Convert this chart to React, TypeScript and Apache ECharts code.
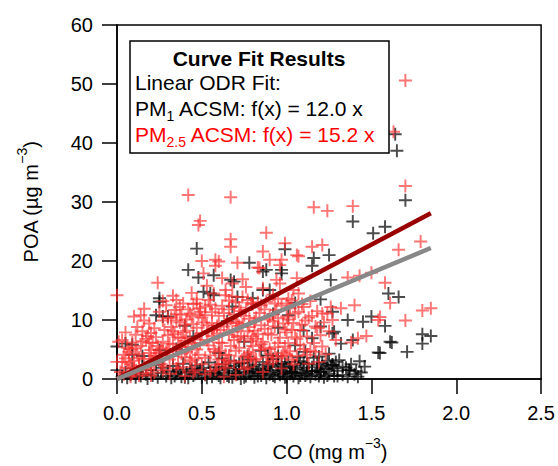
import React, { useEffect, useRef } from "react";
import * as echarts from "echarts";

const xTicks = [0, 0.5, 1.0, 1.5, 2.0, 2.5];
const yTicks = [0, 10, 20, 30, 40, 50, 60];

// PM2.5 ACSM points [CO, POA]
const pm25Points: number[][] = [
  [0.02, 1.2], [0.03, 2.9], [0.04, 0.8], [0.05, 3.5], [0.06, 1.9], [0.07, 4.6], [0.08, 2.4], [0.09, 6.2], [0.1, 3.1], [0.03, 6.6], [0.06, 5.3], [0.1, 1.4], [0.12, 4.2], [0.11, 7.5], [0.0, 14.2], [0.0, 2.9], [0.01, 6.3],
  [0.13, 2.2], [0.14, 5.6], [0.15, 8.1], [0.16, 3.4], [0.17, 6.8], [0.18, 1.6], [0.19, 9.4], [0.2, 4.9], [0.14, 10.8], [0.1, 10.6], [0.18, 7.3], [0.2, 2.7], [0.16, 11.9],
  [0.21, 6.1], [0.22, 8.6], [0.23, 3.8], [0.24, 16.3], [0.25, 11.4], [0.26, 5.2], [0.27, 9.9], [0.28, 2.1], [0.29, 12.5], [0.3, 7.4], [0.22, 1.1], [0.25, 4.4], [0.27, 13.2], [0.3, 10.3],
  [0.31, 3.3], [0.32, 8.8], [0.33, 5.9], [0.34, 11.7], [0.35, 1.8], [0.36, 7.1], [0.37, 9.6], [0.38, 4.3], [0.39, 12.8], [0.4, 6.5], [0.33, 14.1], [0.36, 2.6], [0.38, 10.9], [0.4, 3.7], [0.35, 13.4],
  [0.41, 8.2], [0.42, 31.2], [0.42, 5.4], [0.43, 11.1], [0.44, 2.9], [0.45, 9.3], [0.46, 6.7], [0.47, 13.5], [0.48, 26.1], [0.49, 26.8], [0.48, 4.1], [0.49, 12.0], [0.5, 20.0], [0.5, 7.8], [0.51, 17.9], [0.44, 14.6], [0.46, 1.5], [0.5, 10.4], [0.47, 12.8], [0.49, 11.4], [0.44, 10.6],
  [0.52, 3.6], [0.53, 9.1], [0.54, 5.7], [0.55, 12.6], [0.56, 7.3], [0.57, 14.5], [0.58, 20.2], [0.58, 19.2], [0.59, 2.4], [0.6, 10.7], [0.53, 15.8], [0.55, 1.3], [0.57, 8.4], [0.6, 6.2], [0.56, 11.3], [0.6, 19.9],
  [0.61, 4.8], [0.62, 17.1], [0.63, 8.9], [0.64, 14.2], [0.65, 3.1], [0.66, 11.8], [0.67, 30.8], [0.67, 23.7], [0.67, 22.4], [0.68, 16.2], [0.69, 6.6], [0.7, 9.7], [0.62, 12.4], [0.64, 1.9], [0.66, 7.5], [0.7, 13.0], [0.69, 2.8], [0.64, 15.1],
  [0.71, 19.7], [0.72, 5.3], [0.73, 11.5], [0.74, 13.9], [0.75, 3.8], [0.76, 15.6], [0.77, 8.1], [0.78, 10.2], [0.79, 6.4], [0.8, 12.7], [0.72, 9.0], [0.75, 1.7], [0.78, 4.5], [0.8, 7.2], [0.74, 16.9],
  [0.81, 9.8], [0.82, 3.4], [0.83, 18.9], [0.84, 11.2], [0.85, 5.9], [0.86, 15.4], [0.86, 21.6], [0.87, 8.5], [0.88, 24.8], [0.88, 13.1], [0.89, 2.6], [0.9, 20.2], [0.9, 10.6], [0.82, 6.8], [0.85, 12.5], [0.89, 7.7], [0.84, 18.8],
  [0.91, 4.2], [0.92, 14.3], [0.93, 8.9], [0.94, 11.7], [0.95, 6.1], [0.96, 19.3], [0.96, 16.2], [0.97, 20.2], [0.98, 9.4], [0.99, 23.0], [1.0, 12.8], [0.92, 3.0], [0.95, 13.6], [0.99, 5.5], [1.0, 7.9], [0.94, 16.8],
  [1.01, 10.1], [1.02, 4.7], [1.03, 13.3], [1.04, 15.1], [1.05, 7.1], [1.06, 21.0], [1.07, 20.8], [1.07, 11.4], [1.08, 5.8], [1.09, 9.2], [1.1, 12.2], [1.03, 8.3], [1.06, 3.9], [1.06, 17.1], [1.07, 14.5],
  [1.12, 4.1], [1.13, 10.4], [1.15, 22.4], [1.16, 29.1], [1.17, 4.6], [1.18, 8.6], [1.21, 22.7], [1.21, 11.1], [1.21, 5.5], [1.24, 28.5], [1.26, 12.2], [1.27, 10.0], [1.29, 6.6], [1.14, 13.2], [1.19, 2.9], [1.24, 11.1],
  [1.32, 12.0], [1.36, 17.2], [1.38, 6.2], [1.39, 29.3], [1.4, 12.5], [1.42, 6.9], [1.43, 17.5], [1.47, 7.3], [1.5, 18.0], [1.54, 10.0], [1.55, 10.5], [1.58, 16.3], [1.61, 12.9], [1.63, 41.9], [1.66, 21.9], [1.7, 50.6], [1.7, 32.7], [1.7, 9.9], [1.79, 23.3], [1.8, 11.6], [1.85, 12.0],
  [0.08, 0.4], [0.2, 0.6], [0.31, 0.9], [0.4, 0.5], [0.52, 0.8], [0.63, 0.4], [0.7, 0.7], [0.15, 1.0], [0.27, 1.5], [0.45, 1.1], [0.58, 1.6], [0.77, 2.0], [0.86, 1.2], [0.97, 1.8], [1.04, 2.5],
  [0.04, 4.1], [0.07, 2.8], [0.09, 0.9], [0.11, 5.2], [0.13, 3.6], [0.15, 6.4], [0.17, 1.9], [0.19, 4.4], [0.21, 3.0], [0.23, 7.1], [0.24, 5.6], [0.26, 2.5], [0.28, 8.3], [0.29, 4.6], [0.05, 7.9], [0.08, 5.0], [0.12, 8.8], [0.16, 9.9], [0.2, 7.8], [0.27, 6.3], [0.13, 0.6], [0.22, 4.0], [0.19, 6.2], [0.3, 5.0],
  [0.31, 6.0], [0.32, 10.4], [0.33, 3.9], [0.34, 7.6], [0.35, 9.9], [0.36, 4.8], [0.37, 12.2], [0.38, 6.9], [0.39, 2.0], [0.4, 9.2], [0.41, 4.6], [0.42, 11.8], [0.43, 7.0], [0.44, 5.3], [0.45, 12.7], [0.46, 3.5], [0.47, 8.7], [0.48, 10.9], [0.49, 6.1], [0.5, 2.5], [0.51, 9.6],
  [0.52, 12.3], [0.53, 6.6], [0.54, 8.1], [0.55, 4.0], [0.56, 9.5], [0.57, 5.1], [0.58, 11.9], [0.59, 7.7], [0.6, 3.3], [0.33, 8.1], [0.37, 5.5], [0.41, 10.1], [0.45, 6.0], [0.52, 10.8], [0.58, 4.6], [0.54, 13.4], [0.39, 7.9], [0.43, 3.2], [0.47, 5.0], [0.59, 9.0], [0.35, 11.0],
  [0.61, 8.3], [0.62, 6.1], [0.63, 11.2], [0.64, 4.1], [0.65, 9.4], [0.66, 13.3], [0.67, 5.6], [0.68, 8.0], [0.69, 11.0], [0.7, 4.8], [0.71, 7.1], [0.72, 12.1], [0.73, 3.0], [0.74, 9.3], [0.75, 6.8], [0.76, 11.7], [0.77, 4.2], [0.78, 8.8], [0.79, 12.9], [0.8, 5.6], [0.81, 3.1],
  [0.82, 10.4], [0.83, 7.6], [0.84, 4.9], [0.85, 9.1], [0.86, 6.3], [0.87, 11.8], [0.88, 3.7], [0.89, 10.1], [0.9, 5.1], [0.63, 2.6], [0.67, 10.2], [0.71, 9.5], [0.75, 10.7], [0.79, 3.6], [0.83, 13.0], [0.87, 5.3], [0.66, 4.0], [0.73, 7.3], [0.81, 8.2], [0.68, 14.0], [0.77, 13.4],
  [0.91, 7.5], [0.92, 9.8], [0.93, 5.4], [0.94, 3.6], [0.95, 10.3], [0.96, 7.0], [0.97, 12.4], [0.98, 4.4], [0.99, 8.4], [1.0, 10.6], [1.01, 6.1], [1.02, 12.0], [1.03, 3.3], [1.04, 9.5], [1.05, 11.1], [1.06, 6.8], [1.08, 8.3], [1.09, 12.7],
  [1.1, 5.1], [1.11, 9.9], [1.12, 7.2], [1.14, 4.8], [1.15, 10.7], [1.16, 6.1], [1.18, 11.5], [1.2, 7.4], [1.22, 9.6], [1.23, 4.2], [1.25, 8.1], [0.93, 12.8], [0.97, 3.9], [1.01, 13.6], [1.13, 2.6], [1.17, 8.9], [1.0, 4.1]
];

// PM1 ACSM points [CO, POA]
const pm1Points: number[][] = [
  [0.03, 0.4], [0.05, 1.1], [0.06, 0.2], [0.08, 0.7], [0.09, 1.8], [0.11, 0.3], [0.12, 1.2], [0.14, 0.5], [0.15, 2.1], [0.17, 0.8], [0.18, 0.1], [0.2, 1.5], [0.21, 0.6], [0.23, 2.4], [0.24, 0.3], [0.26, 1.0], [0.27, 1.9], [0.29, 0.5], [0.3, 1.3], [0.32, 0.2],
  [0.33, 2.2], [0.35, 0.9], [0.36, 1.6], [0.38, 0.4], [0.39, 2.6], [0.41, 1.1], [0.42, 0.2], [0.44, 1.7], [0.45, 0.6], [0.47, 2.3], [0.48, 1.0], [0.5, 0.3], [0.51, 1.9], [0.52, 0.7], [0.54, 2.8], [0.55, 1.3], [0.56, 0.4], [0.58, 2.0], [0.59, 0.9], [0.6, 1.5],
  [0.61, 0.2], [0.62, 2.5], [0.63, 1.1], [0.65, 0.6], [0.66, 1.8], [0.67, 3.1], [0.68, 0.3], [0.69, 1.4], [0.7, 2.2], [0.71, 0.8], [0.72, 1.6], [0.73, 0.1], [0.74, 2.7], [0.75, 1.2], [0.76, 0.5], [0.77, 1.9], [0.78, 3.3], [0.79, 0.9], [0.8, 1.4], [0.81, 0.3],
  [0.82, 2.4], [0.83, 1.0], [0.84, 1.7], [0.85, 0.6], [0.86, 2.9], [0.87, 1.3], [0.88, 0.2], [0.89, 2.1], [0.9, 0.8], [0.91, 1.5], [0.92, 3.4], [0.93, 0.4], [0.94, 2.0], [0.95, 1.1], [0.96, 0.7], [0.97, 2.6], [0.98, 1.4], [0.99, 0.3], [1.0, 1.8], [1.01, 2.9],
  [1.02, 0.9], [1.03, 1.2], [1.04, 0.5], [1.05, 2.3], [1.06, 1.6], [1.07, 0.2], [1.08, 3.0], [1.09, 1.0], [1.1, 1.9], [1.11, 0.6], [1.12, 2.5], [1.13, 1.3], [1.14, 0.4], [1.15, 2.0], [1.16, 3.6], [1.17, 0.8], [1.18, 1.5], [1.2, 1.2], [1.21, 2.7], [1.22, 0.3],
  [1.23, 1.7], [1.25, 0.9], [1.26, 2.2], [1.27, 2.4], [1.28, 0.5], [1.3, 1.4], [1.31, 3.2], [1.33, 0.7], [1.35, 1.9], [1.37, 1.5], [1.4, 0.8], [1.42, 0.4], [1.44, 1.1], [1.46, 2.1], [1.03, 1.2], [0.0, 1.5],
  [0.34, 0.5], [0.37, 1.2], [0.4, 0.3], [0.43, 1.4], [0.46, 0.9], [0.49, 1.6], [0.53, 0.2], [0.57, 1.0], [0.6, 0.6], [0.64, 1.9], [0.66, 0.4], [0.7, 1.0], [0.72, 2.6], [0.75, 0.3], [0.78, 1.2], [0.8, 2.1], [0.83, 0.5], [0.86, 1.0], [0.88, 1.8], [0.9, 2.6],
  [0.92, 0.6], [0.95, 2.3], [0.98, 0.9], [1.0, 0.4], [1.02, 2.0], [1.05, 1.0], [1.08, 0.6], [1.1, 2.7], [1.12, 0.9], [1.15, 1.3], [1.18, 2.4], [1.19, 0.5], [1.22, 1.9], [1.24, 0.6], [1.28, 1.8], [1.3, 0.5], [1.33, 2.1], [1.36, 0.4], [1.38, 2.5], [1.41, 1.3],
  [1.43, 3.0], [0.77, 3.8], [0.95, 3.9], [1.07, 3.7], [1.24, 3.1], [0.62, 3.5], [0.89, 4.0], [1.29, 2.9],
  [0.05, 6.0], [0.09, 5.8], [0.0, 5.5], [0.09, 4.1], [0.25, 4.9], [0.25, 13.1], [0.27, 10.6], [0.23, 10.8], [0.3, 10.6], [0.25, 13.7], [0.55, 14.5], [0.51, 14.8], [0.57, 14.2], [0.68, 12.3], [0.71, 13.9], [0.86, 15.1], [0.9, 15.1], [0.69, 16.5], [0.8, 13.7], [1.01, 10.8],
  [1.27, 11.4], [1.19, 3.8], [1.27, 7.7], [1.11, 4.6], [0.99, 2.6], [0.15, 3.9], [0.35, 5.1], [0.45, 7.2], [0.6, 4.4], [0.75, 6.3], [0.85, 4.8], [0.95, 8.7], [1.05, 5.7], [1.15, 6.9], [1.25, 4.3], [0.4, 9.0], [0.65, 9.8], [0.92, 11.0], [1.1, 8.2], [1.2, 8.9],
  [1.28, 8.0], [1.32, 6.0], [1.39, 6.6], [1.36, 10.0], [1.45, 9.7], [1.5, 10.6], [1.58, 9.0], [1.62, 6.2], [1.54, 4.5], [1.71, 4.6], [1.8, 7.6], [1.85, 7.3], [1.8, 6.0], [1.61, 6.3], [1.55, 4.4],
  [0.47, 22.1], [0.42, 18.5], [0.48, 17.2], [0.57, 17.6], [0.67, 16.8], [0.78, 19.7], [0.86, 18.2], [0.97, 18.5], [0.99, 22.0], [0.97, 17.9], [1.16, 20.5], [1.25, 21.0], [1.15, 19.2], [1.26, 16.8], [1.05, 12.9], [1.2, 13.5], [1.6, 14.5], [1.66, 13.9],
  [1.7, 30.3], [1.39, 26.7], [1.51, 24.7], [1.58, 25.8], [1.64, 41.5], [1.65, 38.7], [0.88, 18.5], [1.2, 1.2], [1.27, 2.4], [1.37, 1.5]
];

// Linear ODR fits through origin (slopes 12.0 and 15.2)
const fitX = [0, 1.85];
const pm1Fit = [0, 22.2];
const pm25Fit = [0, 28.1];

const FONT = "'Liberation Sans', Arial, Helvetica, sans-serif";
const PLUS = "path://M5.1,0H6.9V5.1H12V6.9H6.9V12H5.1V6.9H0V5.1H5.1Z";

export default function App() {
  const ref = useRef<HTMLDivElement>(null);
  useEffect(() => {
    if (!ref.current) return;
    const chart = echarts.init(ref.current, undefined, { renderer: "svg" });
    const option: any = {
      animation: false,
      backgroundColor: "#ffffff",
      grid: {
        left: 117, right: 15, top: 25, bottom: 87,
        show: true, borderColor: "#000", borderWidth: 1.5, backgroundColor: "transparent",
      },
      xAxis: {
        type: "value", min: 0, max: 2.5, interval: 0.5,
        axisLine: { show: true, onZero: false, lineStyle: { color: "#000", width: 1.5 } },
        axisTick: { show: true, length: 15, lineStyle: { color: "#000", width: 1.5 } },
        axisLabel: {
          margin: 24, color: "#000", fontSize: 20, fontFamily: FONT,
          formatter: (v: number) => v.toFixed(1),
        },
        splitLine: { show: false },
      },
      yAxis: {
        type: "value", min: 0, max: 60, interval: 10,
        axisLine: { show: true, onZero: false, lineStyle: { color: "#000", width: 1.5 } },
        axisTick: { show: true, length: 15, lineStyle: { color: "#000", width: 1.5 } },
        axisLabel: { margin: 24, color: "#000", fontSize: 20, fontFamily: FONT },
        splitLine: { show: false },
      },
      series: [
        {
          type: "scatter", name: "PM1 ACSM", data: pm1Points,
          symbol: PLUS, symbolSize: 13,
          itemStyle: { color: "rgba(0,0,0,0.88)" },
          z: 2,
        },
        {
          type: "scatter", name: "PM2.5 ACSM", data: pm25Points,
          symbol: PLUS, symbolSize: 13,
          itemStyle: { color: "rgba(255,45,45,0.82)" },
          z: 3,
        },
        {
          type: "line", data: fitX.map((x, i) => [x, pm25Fit[i]]),
          showSymbol: false, symbol: "none",
          lineStyle: { color: "#990000", width: 4.5 }, z: 4,
        },
        {
          type: "line", data: fitX.map((x, i) => [x, pm1Fit[i]]),
          showSymbol: false, symbol: "none",
          lineStyle: { color: "#888888", width: 4.5 }, z: 5,
        },
      ],
      graphic: [
        {
          type: "rect", z: 100,
          shape: { x: 130, y: 41, width: 259, height: 112 },
          style: { fill: "#fff", stroke: "#000", lineWidth: 1.5 },
        },
        {
          type: "text", z: 101, x: 259, y: 58,
          style: { text: "Curve Fit Results", font: `bold 21px ${FONT}`, fill: "#000", align: "center", verticalAlign: "middle" },
        },
        {
          type: "text", z: 101, x: 135, y: 82,
          style: { text: "Linear ODR Fit:", font: `21px ${FONT}`, fill: "#000", align: "left", verticalAlign: "middle" },
        },
        {
          type: "text", z: 101, x: 135, y: 108,
          style: {
            text: "{b|PM}{s|1}{b| ACSM: f(x) = 12.0 x}",
            align: "left", verticalAlign: "middle",
            rich: {
              b: { fontFamily: FONT, fontSize: 21, fill: "#000", color: "#000", lineHeight: 30 },
              s: { fontFamily: FONT, fontSize: 14, fill: "#000", color: "#000", lineHeight: 14, verticalAlign: "bottom" },
            },
          },
        },
        {
          type: "text", z: 101, x: 135, y: 134,
          style: {
            text: "{b|PM}{s|2.5}{b| ACSM: f(x) = 15.2 x}",
            align: "left", verticalAlign: "middle",
            rich: {
              b: { fontFamily: FONT, fontSize: 21, fill: "#ff0000", color: "#ff0000", lineHeight: 30 },
              s: { fontFamily: FONT, fontSize: 14, fill: "#ff0000", color: "#ff0000", lineHeight: 14, verticalAlign: "bottom" },
            },
          },
        },
        {
          type: "text", z: 101, x: 330, y: 452,
          style: {
            text: "{b|CO (mg m}{s|−3}{b|)}",
            align: "center", verticalAlign: "middle",
            rich: {
              b: { fontFamily: FONT, fontSize: 20, fill: "#000", color: "#000", lineHeight: 32 },
              s: { fontFamily: FONT, fontSize: 14, fill: "#000", color: "#000", lineHeight: 14, verticalAlign: "top" },
            },
          },
        },
        {
          type: "text", z: 101, x: 31, y: 202, rotation: Math.PI / 2,
          style: {
            text: "{b|POA (µg m}{s|−3}{b|)}",
            align: "center", verticalAlign: "middle",
            rich: {
              b: { fontFamily: FONT, fontSize: 20, fill: "#000", color: "#000", lineHeight: 32 },
              s: { fontFamily: FONT, fontSize: 14, fill: "#000", color: "#000", lineHeight: 14, verticalAlign: "top" },
            },
          },
        },
      ],
    };
    chart.setOption(option);
    return () => chart.dispose();
  }, []);
  return (
    <div
      ref={ref}
      style={{ position: "fixed", left: 0, top: 0, width: 558, height: 466, background: "#fff" }}
    />
  );
}
